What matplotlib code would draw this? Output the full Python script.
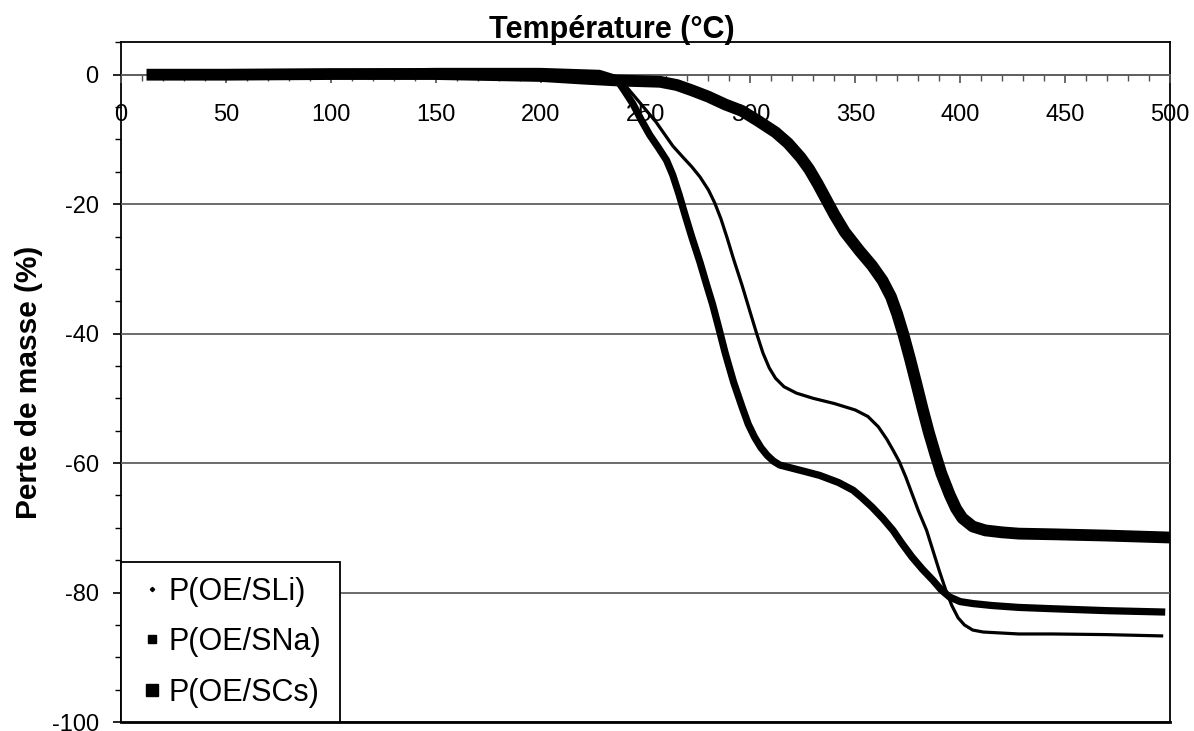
import matplotlib
matplotlib.use('Agg')
import matplotlib.pyplot as plt
from matplotlib.lines import Line2D
from matplotlib.ticker import MultipleLocator

plt.rcParams['font.family'] = ['Liberation Sans', 'DejaVu Sans']
plt.rcParams['axes.unicode_minus'] = False

# TGA curves (temperature in °C, mass loss in %)
t_li = [15, 50, 100, 150, 200, 228, 236, 241, 247, 255, 263, 268, 272, 276, 280, 283, 286, 289, 292,
        296, 300, 303, 306, 309, 312, 316, 322, 330, 340, 350, 356, 361, 365, 368, 371, 374, 377, 380,
        384, 387, 390, 393, 396, 399, 402, 406, 411, 428, 444, 470, 496]
m_li = [0.0, 0.1, 0.3, 0.5, 0.6, 0.4, -0.6, -1.9, -4.2, -7.3, -11.0, -12.8, -14.2, -15.8, -17.8, -19.8,
        -22.3, -25.3, -28.5, -32.5, -36.8, -40.0, -43.0, -45.3, -46.9, -48.2, -49.2, -50.0, -50.8, -51.8,
        -52.8, -54.4, -56.3, -58.0, -59.8, -62.1, -64.7, -67.3, -70.4, -73.5, -76.6, -79.5, -82.0, -83.9,
        -85.0, -85.8, -86.1, -86.4, -86.4, -86.5, -86.7]

t_na = [15, 50, 100, 150, 200, 228, 236, 240, 244, 248, 252, 256, 260, 263, 266, 269, 272, 276, 279,
        282, 285, 288, 292, 296, 299, 302, 305, 308, 311, 314, 320, 326, 333, 342, 349, 353, 358, 363,
        368, 372, 377, 382, 387, 391, 395, 400, 406, 415, 428, 444, 470, 496]
m_na = [0.0, 0.1, 0.3, 0.5, 0.5, 0.2, -0.6, -2.5, -4.5, -7.0, -9.3, -11.2, -13.2, -15.5, -18.5, -21.8,
        -25.0, -29.0, -32.3, -35.5, -39.2, -43.0, -47.5, -51.3, -54.0, -56.0, -57.6, -58.8, -59.7, -60.3,
        -60.8, -61.3, -61.9, -63.0, -64.2, -65.3, -66.8, -68.5, -70.4, -72.3, -74.5, -76.4, -78.1, -79.6,
        -80.7, -81.4, -81.7, -82.0, -82.3, -82.5, -82.8, -83.0]

t_cs = [15, 50, 100, 150, 200, 220, 237, 257, 265, 272, 280, 288, 296, 304, 312, 318, 324, 328, 332,
        336, 340, 345, 352, 358, 363, 367, 370, 373, 376, 379, 382, 385, 388, 391, 395, 398, 401, 406,
        412, 420, 428, 444, 470, 500]
m_cs = [0.0, 0.0, 0.1, 0.1, -0.2, -0.6, -0.9, -1.1, -1.6, -2.4, -3.4, -4.6, -5.6, -7.2, -8.9, -10.6,
        -12.8, -14.6, -16.8, -19.2, -21.6, -24.3, -27.2, -29.5, -31.8, -34.3, -37.0, -40.2, -43.8, -47.6,
        -51.5, -55.2, -58.5, -61.6, -64.9, -67.0, -68.5, -69.8, -70.4, -70.7, -70.9, -71.0, -71.2, -71.5]

labels = ['P(OE/SLi)', 'P(OE/SNa)', 'P(OE/SCs)']

fig = plt.figure(figsize=(11.94, 7.31), dpi=100)
ax = fig.add_axes([0.1013, 0.0123, 0.8786, 0.9298])

ax.plot(t_li, m_li, color='black', lw=2.3, zorder=3, solid_joinstyle='round')
ax.plot(t_na, m_na, color='black', lw=5.2, zorder=3, solid_joinstyle='round')
ax.plot(t_cs, m_cs, color='black', lw=8.5, zorder=3, solid_joinstyle='round')

ax.set_xlim(0, 500)
ax.set_ylim(-100, 5)

# x axis crosses at y = 0, Excel style
ax.spines['bottom'].set_position(('data', 0))
ax.spines['bottom'].set_color('#606060')
ax.spines['bottom'].set_linewidth(1.3)
for s in ['left', 'top', 'right']:
    ax.spines[s].set_color('black')
    ax.spines[s].set_linewidth(1.3)
ax.plot([0, 1], [0, 0], transform=ax.transAxes, color='black', lw=2.0, clip_on=False, zorder=4)

ax.xaxis.set_major_locator(MultipleLocator(50))
ax.xaxis.set_minor_locator(MultipleLocator(10))
ax.yaxis.set_major_locator(MultipleLocator(20))
ax.yaxis.set_minor_locator(MultipleLocator(5))
ax.tick_params(axis='x', which='major', direction='out', length=6, width=1.2, color='#505050',
               labelsize=17, pad=15)
ax.tick_params(axis='x', which='minor', direction='out', length=4, width=1.0, color='#505050')
ax.tick_params(axis='y', which='major', direction='out', length=6, width=1.2, labelsize=17, pad=10)
ax.tick_params(axis='y', which='minor', direction='out', length=4, width=1.0)
ax.yaxis.grid(True, which='major', color='#606060', lw=1.3)
ax.set_axisbelow(False)

ax.set_ylabel('Perte de masse (%)', fontsize=21.5, fontweight='bold')
ax.yaxis.set_label_coords(-0.074, 0.5)
ax.text(0.468, 1.007, 'Température (°C)', transform=ax.transAxes, ha='center', va='baseline',
        fontsize=22, fontweight='bold')

handles = [Line2D([], [], ls='none', marker='D', ms=2.2, color='black'),
           Line2D([], [], ls='none', marker='s', ms=5.5, color='black'),
           Line2D([], [], ls='none', marker='s', ms=8, color='black')]
leg = ax.legend(handles, labels, loc='lower left', bbox_to_anchor=(0, 0, 0.209, 0.233),
                mode='expand', borderaxespad=0, fontsize=22, frameon=True, fancybox=False,
                edgecolor='black', framealpha=1, borderpad=0.47, handlelength=1.1,
                handletextpad=0.0, labelspacing=0.67)
leg.get_frame().set_linewidth(1.3)
leg.set_zorder(5)

fig.savefig('out.png', dpi=100, facecolor='white')
